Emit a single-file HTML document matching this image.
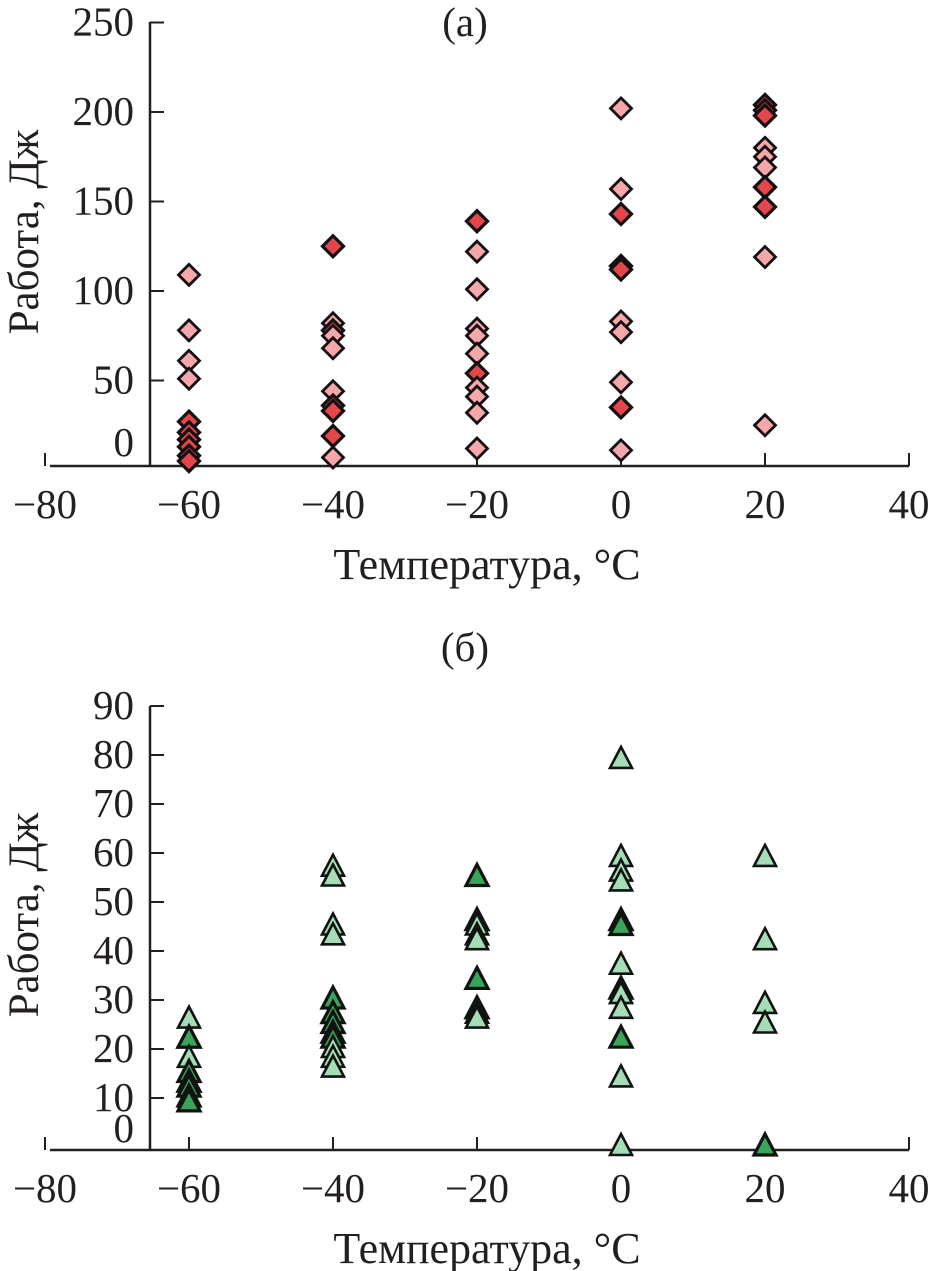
<!DOCTYPE html>
<html><head><meta charset="utf-8"><style>
html,body{margin:0;padding:0;background:#fff;}
svg{display:block;font-family:"Liberation Serif",serif;}
</style></head><body>
<svg id="chart" width="930" height="1271" viewBox="0 0 930 1271"></svg>
<script>
// Panel (a) data
const aTemps = [-60,-60,-60,-60,-60,-60,-60,-60,-60,-60,
  -40,-40,-40,-40,-40,-40,-40,-40,-40,-40,
  -20,-20,-20,-20,-20,-20,-20,-20,-20,-20,-20,
  0,0,0,0,0,0,0,0,0,0,
  20,20,20,20,20,20,20,20,20,20];
const aWork = [109,78,61,51,27,21,17,13,8,5,
  125,82,78,75,68,44,36,33,19,7,
  139,122,101,79,75,65,54,46,41,32,12,
  202,157,143,114,112,83,77,49,35,11,
  204,201,198,180,175,169,158,147,119,25];
const aDark = [0,0,0,0,1,1,1,1,1,1,
  1,0,1,0,0,0,1,1,1,0,
  1,0,0,0,0,0,1,0,0,0,0,
  0,0,1,1,1,0,0,0,1,0,
  1,1,1,0,0,0,1,1,0,0];
const aYTicks = [0,50,100,150,200,250];
// Panel (b) data
const bTemps = [-60,-60,-60,-60,-60,-60,-60,-60,-60,
  -40,-40,-40,-40,-40,-40,-40,-40,-40,-40,-40,-40,
  -20,-20,-20,-20,-20,-20,-20,-20,-20,
  0,0,0,0,0,0,0,0,0,0,0,0,0,
  20,20,20,20,20];
const bWork = [26,22,22,18,15,13,12,10,9,
  57,55,45,43,30,27,25,23,22,20,18,16,
  55,46,45,43,42,34,28,27,26,
  79,59,56,54,46,45,37,32,31,28,22,14,0,
  59,42,29,25,0];
const bDark = [0,1,1,0,1,1,1,1,1,
  0,0,0,0,1,1,1,1,1,0,0,0,
  1,1,0,0,0,1,1,0,0,
  0,0,0,0,1,1,0,1,0,0,1,0,0,
  0,0,0,0,1];
const bYTicks = [0,10,20,30,40,50,60,70,80,90];
const xTicks = [-80,-60,-40,-20,0,20,40];

const NS="http://www.w3.org/2000/svg";
const svg=document.getElementById('chart');
function mk(tag,attrs,parent){const e=document.createElementNS(NS,tag);for(const k in attrs)e.setAttribute(k,attrs[k]);(parent||svg).appendChild(e);return e;}
const xs = t => 621 + t*7.2;

function panel(cfg){
  const g=mk('g',{});
  
  
  const ys=cfg.ys;
  const xa=mk('line',{x1:50,x2:909,y1:cfg.axisY,y2:cfg.axisY,stroke:'#231f20','stroke-width':2.5},g);
  
  
  const ya=mk('line',{x1:150,x2:150,y1:cfg.topY,y2:cfg.axisY,stroke:'#231f20','stroke-width':2.5},g);
  
  
  xTicks.forEach(t=>{
    const x=xs(t);
    mk('line',{x1:x,x2:x,y1:cfg.axisY,y2:cfg.axisY-13,stroke:'#231f20','stroke-width':2},g);
    const tx=mk('text',{x:x,y:cfg.axisY+52,'text-anchor':'middle','font-size':41,fill:'#231f20'},g);
    tx.textContent=(t<0?'\u2212'+(-t):String(t));
    
    
  });
  cfg.yTicks.forEach(v=>{
    const y=ys(v);
    if(v!==0) mk('line',{x1:150,x2:164,y1:y,y2:y,stroke:'#231f20','stroke-width':2},g);
    const ty=(v===0)?cfg.zeroLabelY:y+13;
    const tx=mk('text',{x:134,y:ty,'text-anchor':'end','font-size':41,fill:'#231f20'},g);
    tx.textContent=String(v);
    
    
  });
  const title=mk('text',{x:465,y:cfg.titleY,'text-anchor':'middle','font-size':41,fill:'#231f20'},g);
  title.textContent=cfg.title;
  
  
  const xt=mk('text',{x:487,y:cfg.axisY+113,'text-anchor':'middle','font-size':44,fill:'#231f20'},g);
  xt.textContent='Температура, °C';
  
  
  const yc=cfg.yTitleC;
  const yt=mk('text',{x:0,y:0,'text-anchor':'middle','font-size':43,fill:'#231f20',transform:`translate(38,${yc}) rotate(-90)`},g);
  yt.textContent='Работа, Дж';
  
  
  cfg.temps.forEach((t,i)=>{
    const x=xs(t), y=ys(cfg.work[i]);
    const dark=cfg.dark[i];
    let m;
    if(cfg.shape==='diamond'){
      const r=10.5;
      m=mk('polygon',{points:`${x},${y-r} ${x+r},${y} ${x},${y+r} ${x-r},${y}`,fill:dark?'#e5464c':'#f5a7aa',stroke:'#140f10','stroke-width':dark?3.2:2.8},g);
    } else {
      m=mk('polygon',{points:`${x},${y-13} ${x+11},${y+8} ${x-11},${y+8}`,fill:dark?'#3aa55a':'#a6dcb8',stroke:'#101410','stroke-width':dark?3.2:2.6},g);
    }
    
    
  });
}
panel({name:'panel-a',ys:v=>470-v*1.79,axisY:466,topY:22,yTicks:aYTicks,zeroLabelY:456,title:'(a)',titleY:36,yTitleC:232,
  temps:aTemps,work:aWork,dark:aDark,shape:'diamond'});
panel({name:'panel-b',ys:v=>1147-v*4.9,axisY:1150,topY:706,yTicks:bYTicks,zeroLabelY:1142,title:'(б)',titleY:661,yTitleC:915,
  temps:bTemps,work:bWork,dark:bDark,shape:'triangle'});
</script>
</body></html>
